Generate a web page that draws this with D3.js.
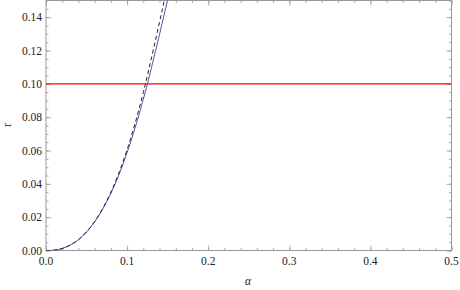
<!DOCTYPE html>
<html>
<head>
<meta charset="utf-8">
<script src="https://cdn.jsdelivr.net/npm/d3@7.9.0/dist/d3.min.js"></script>
<style>
  body { margin: 0; background: #fff; }
  svg { display: block; }
</style>
</head>
<body>
<svg width="460" height="290"></svg>
<script>
// values
const alphaSolid = [0, 0.01, 0.02, 0.03, 0.04, 0.05, 0.06, 0.07, 0.08, 0.09, 0.10, 0.11, 0.12, 0.125, 0.13, 0.14, 0.15, 0.155];
const rSolid     = [0, 0.0002, 0.0012, 0.0033, 0.0065, 0.0111, 0.0172, 0.0249, 0.0343, 0.0455, 0.0588, 0.0738, 0.0908, 0.1, 0.1097, 0.1297, 0.1505, 0.161];
const alphaDash  = [0, 0.01, 0.02, 0.03, 0.04, 0.05, 0.06, 0.07, 0.08, 0.09, 0.10, 0.11, 0.12, 0.1226, 0.13, 0.14, 0.146, 0.152];
const rDash      = [0, 0.0002, 0.0012, 0.0033, 0.0065, 0.0112, 0.0174, 0.0253, 0.035, 0.0467, 0.0605, 0.0765, 0.0948, 0.1, 0.1155, 0.137, 0.1505, 0.164];
const rLevel = 0.10;
const xTicks = [0, 0.1, 0.2, 0.3, 0.4, 0.5];
const yTicks = [0, 0.02, 0.04, 0.06, 0.08, 0.10, 0.12, 0.14];

const svg = d3.select('svg')
  .style('font-family', '"Liberation Serif", "Times New Roman", serif');
const mLeft = 46, mRight = 451.5, mTop = 0.5, mBottom = 250.5;

const x = d3.scaleLinear().domain([0, 0.5]).range([mLeft, mRight]);
const y = d3.scaleLinear().domain([0, 0.15]).range([mBottom, mTop]);

svg.append('defs').append('clipPath').attr('id', 'clip')
  .append('rect').attr('x', mLeft).attr('y', mTop).attr('width', mRight - mLeft).attr('height', mBottom - mTop);

const frameColor = '#999';
const xMinor = d3.range(0, 0.5001, 0.02);
const yMinor = d3.range(0, 0.1501, 0.005);

// inward ticks on all four sides, minor then major
function ticks(axisFn, scale, pos, values, len) {
  svg.append('g').attr('transform', pos)
    .call(axisFn(scale).tickValues(values).tickSize(len).tickFormat(''))
    .call(g => g.select('.domain').remove());
}
ticks(d3.axisTop, x, `translate(0,${mBottom})`, xMinor, 2.5);
ticks(d3.axisTop, x, `translate(0,${mBottom})`, xTicks, 5);
ticks(d3.axisBottom, x, `translate(0,${mTop})`, xMinor, 2.5);
ticks(d3.axisBottom, x, `translate(0,${mTop})`, xTicks, 5);
ticks(d3.axisRight, y, `translate(${mLeft},0)`, yMinor, 2.5);
ticks(d3.axisRight, y, `translate(${mLeft},0)`, yTicks, 5);
ticks(d3.axisLeft, y, `translate(${mRight},0)`, yMinor, 2.5);
ticks(d3.axisLeft, y, `translate(${mRight},0)`, yTicks, 5);

svg.selectAll('.tick line').attr('stroke', frameColor).attr('stroke-width', 0.8);

// frame
svg.append('rect')
  .attr('x', mLeft).attr('y', mTop).attr('width', mRight - mLeft).attr('height', mBottom - mTop)
  .attr('fill', 'none').attr('stroke', frameColor).attr('stroke-width', 1);

// tick labels
const labels = svg.append('g').attr('fill', '#222').attr('font-size', 11.5);
labels.append('g').selectAll('text').data(xTicks).join('text')
  .attr('x', d => x(d)).attr('y', mBottom + 14.5)
  .attr('text-anchor', 'middle')
  .text(d => d3.format('.1f')(d));
labels.append('g').selectAll('text').data(yTicks).join('text')
  .attr('x', mLeft - 4).attr('y', d => y(d) + 4)
  .attr('text-anchor', 'end')
  .text(d => d3.format('.2f')(d));

// axis titles
labels.append('text').attr('x', 248).attr('y', 285)
  .attr('text-anchor', 'middle').attr('font-style', 'italic')
  .text('α');
labels.append('text').attr('transform', 'translate(11,125) rotate(-90)')
  .attr('text-anchor', 'middle')
  .text('r');

// curves
const line = d3.line().x(d => x(d[0])).y(d => y(d[1])).curve(d3.curveCatmullRom);
const plot = svg.append('g').attr('clip-path', 'url(#clip)');

plot.append('line')
  .attr('x1', x(0)).attr('x2', x(0.5)).attr('y1', y(rLevel)).attr('y2', y(rLevel))
  .attr('stroke', '#ff0000').attr('stroke-width', 1.2);

plot.append('path').datum(d3.zip(alphaSolid, rSolid))
  .attr('d', line).attr('fill', 'none')
  .attr('stroke', '#5252b0').attr('stroke-width', 1);

plot.append('path').datum(d3.zip(alphaDash, rDash))
  .attr('d', line).attr('fill', 'none')
  .attr('stroke', '#222').attr('stroke-width', 1).attr('stroke-dasharray', '4,3');
</script>
</body>
</html>
